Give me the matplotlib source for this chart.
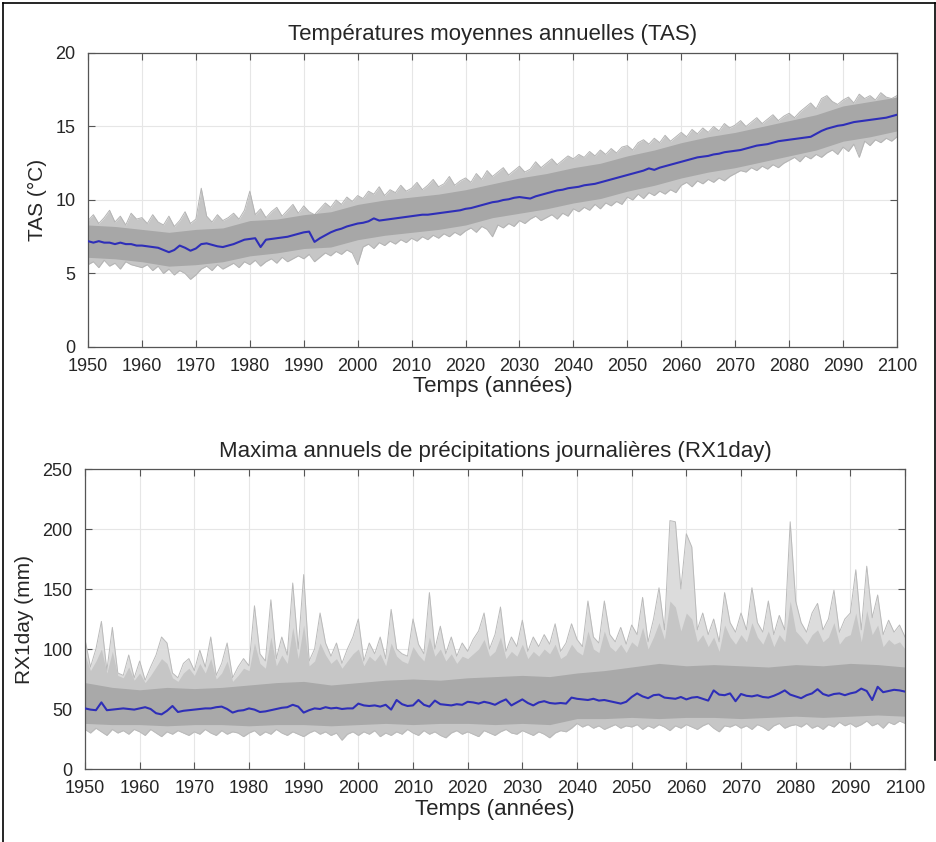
import matplotlib.pyplot as plt
import numpy as np
from matplotlib.lines import Line2D

years = np.arange(1950, 2101)
core_years = np.arange(1950, 2101, 5)

# --- TAS (°C): ensemble mean, extreme members, dense core of the ensemble
tas_mean = [
    7.2, 7.1, 7.2, 7.1, 7.1, 7.0, 7.1, 7.0, 7.0, 6.9,
    6.9, 6.85, 6.8, 6.75, 6.6, 6.45, 6.6, 6.9, 6.75, 6.55,
    6.7, 7.0, 7.05, 6.95, 6.85, 6.8, 6.9, 7.0, 7.15, 7.3,
    7.35, 7.4, 6.8, 7.3, 7.35, 7.4, 7.45, 7.5, 7.6, 7.7,
    7.8, 7.85, 7.15, 7.4, 7.6, 7.8, 7.95, 8.05, 8.2, 8.3,
    8.4, 8.45, 8.55, 8.75, 8.6, 8.65, 8.7, 8.75, 8.8, 8.85,
    8.9, 8.95, 9.0, 9.0, 9.05, 9.1, 9.15, 9.2, 9.25, 9.3,
    9.4, 9.45, 9.55, 9.65, 9.75, 9.85, 9.9, 10.0, 10.05, 10.15,
    10.2, 10.15, 10.1, 10.25, 10.35, 10.45, 10.55, 10.65, 10.7, 10.8,
    10.85, 10.9, 11.0, 11.05, 11.1, 11.2, 11.3, 11.4, 11.5, 11.6,
    11.7, 11.8, 11.9, 12.0, 12.15, 12.05, 12.2, 12.3, 12.4, 12.5,
    12.6, 12.7, 12.8, 12.9, 12.95, 13.0, 13.1, 13.15, 13.25, 13.3,
    13.35, 13.4, 13.5, 13.6, 13.7, 13.75, 13.8, 13.9, 14.0, 14.05,
    14.1, 14.15, 14.2, 14.25, 14.3, 14.5, 14.7, 14.85, 14.95, 15.05,
    15.1, 15.2, 15.3, 15.35, 15.4, 15.45, 15.5, 15.55, 15.6, 15.7, 15.8,
]
tas_max = [
    8.6, 9.0, 8.4, 8.8, 9.3, 8.5, 8.9, 8.3, 9.1, 8.7,
    8.8, 8.4, 9.0, 8.5, 8.3, 8.9, 8.2, 8.6, 9.2, 8.4,
    8.7, 10.8, 8.9, 8.5, 9.0, 8.6, 8.8, 9.1, 8.7, 9.3,
    10.6, 9.0, 9.4, 8.8, 9.2, 9.5, 8.9, 9.3, 9.7, 9.1,
    9.6, 9.2, 9.0, 9.4, 9.8, 9.5, 10.0, 9.7, 10.2, 9.9,
    10.3, 10.1, 10.6, 10.4, 10.9, 10.3, 10.7, 10.5, 11.0, 10.6,
    10.8, 11.2, 10.7, 11.0, 11.4, 10.9, 11.1, 11.6, 11.0, 11.3,
    11.5, 11.2, 11.8, 11.4, 12.0, 11.6, 11.9, 12.2, 11.7, 12.0,
    12.3, 11.9, 12.1, 12.6, 12.2, 12.5, 12.8, 12.4, 12.7, 13.0,
    12.8, 13.1, 12.9, 13.3, 13.0, 13.4, 13.1, 13.5, 13.2, 13.6,
    13.7, 13.4, 13.9, 14.1, 13.8, 14.2, 13.9, 14.4, 14.0, 14.3,
    14.6, 14.3, 14.8, 14.5, 14.9, 14.6, 15.0, 14.7, 15.2, 14.9,
    15.1, 15.4, 15.0, 15.3, 15.6, 15.2, 15.5, 15.8, 15.4, 15.7,
    15.9, 15.6, 16.0, 16.3, 16.6, 16.2, 16.9, 17.1, 16.7, 16.5,
    16.8, 17.0, 16.6, 17.2, 16.9, 17.1, 16.8, 17.3, 17.0, 16.9, 17.1,
]
tas_min = [
    5.6, 5.8, 5.4, 5.9, 5.5, 5.7, 5.3, 5.8, 5.6, 5.5,
    5.4, 5.6, 5.2, 5.5, 5.0, 5.3, 4.9, 5.2, 5.0, 4.6,
    4.9, 5.3, 5.5, 5.2, 5.6, 5.3, 5.5, 5.7, 5.4, 5.8,
    5.6, 5.9, 5.5, 5.8, 6.0, 5.7, 6.1, 5.8, 6.0, 6.2,
    6.0, 6.3, 5.8, 6.1, 6.4, 6.2, 6.5, 6.3, 6.6, 6.4,
    5.6, 6.8, 7.0, 6.7, 7.1, 6.9, 7.2, 7.0, 7.3, 7.1,
    7.4, 7.2, 7.5, 7.3, 7.6, 7.4, 7.7, 7.5, 7.8, 7.6,
    7.9, 8.1, 7.8, 8.2, 8.0, 7.5, 8.3, 8.1, 8.4, 8.2,
    8.6, 8.4, 8.7, 8.9, 8.6, 8.8, 9.0, 8.7, 9.1, 8.9,
    9.4, 9.2, 9.5, 9.3, 9.7, 9.4, 9.8, 9.6, 9.9, 9.7,
    10.2, 10.0, 10.4, 10.1, 10.5, 10.3, 10.6, 10.4, 10.7, 10.5,
    11.0, 11.2, 10.9, 11.3, 11.1, 11.4, 11.2, 11.5, 11.3, 11.6,
    11.8, 12.0, 11.9, 12.2, 12.0, 12.3, 12.1, 12.4, 12.2, 12.5,
    12.7, 12.9, 12.6, 13.0, 12.8, 13.1, 12.9, 13.2, 13.4, 13.1,
    13.6, 13.3, 13.8, 12.9, 14.0, 13.7, 14.1, 13.9, 14.2, 14.0, 14.3,
]
tas_core_hi = [8.3, 8.2, 8.0, 7.8, 8.0, 8.1, 8.6, 8.7, 9.0, 9.2, 9.7,
               10.0, 10.2, 10.4, 10.7, 11.1, 11.5, 11.8, 12.2, 12.5, 13.0,
               13.4, 13.9, 14.3, 14.6, 15.0, 15.4, 15.8, 16.4, 16.7, 17.0]
tas_core_lo = [6.1, 6.0, 5.8, 5.5, 5.6, 5.8, 6.2, 6.4, 6.7, 6.8, 7.3,
               7.6, 7.8, 8.0, 8.3, 8.8, 9.1, 9.4, 9.8, 10.1, 10.6,
               11.0, 11.5, 11.9, 12.2, 12.6, 13.0, 13.4, 14.0, 14.3, 14.7]

# --- RX1day (mm): mean, extreme and typical upper members, min, dense core
rx_mean = [
    50.5, 49.5, 49.0, 55.5, 49.0, 49.5, 50.0, 50.5, 50.0, 49.5,
    50.5, 51.5, 50.0, 46.5, 45.5, 48.5, 52.5, 47.5, 48.5, 49.0,
    49.5, 50.0, 50.5, 50.5, 51.5, 52.0, 50.0, 47.0, 48.5, 49.0,
    50.5, 49.5, 47.5, 48.0, 49.0, 50.0, 51.0, 51.5, 53.5, 52.0,
    47.0, 49.0, 50.5, 50.0, 51.5, 50.5, 51.0, 50.0, 50.5, 50.5,
    54.5, 53.0, 52.5, 53.0, 52.0, 53.5, 49.5, 57.5, 54.0, 52.5,
    53.0, 57.5, 53.5, 52.0, 57.0, 54.0, 53.5, 53.0, 54.0, 53.5,
    56.0, 55.5, 54.5, 56.0, 55.0, 53.5, 56.0, 58.0, 53.0, 55.5,
    58.0, 55.0, 53.0, 55.5, 56.5, 55.0, 54.5, 55.0, 54.5, 59.5,
    58.5, 58.0, 57.5, 58.5, 57.0, 57.5, 56.5, 55.5, 54.5, 56.0,
    60.0, 63.0, 60.5, 59.0, 61.5, 62.0, 59.5, 59.0, 58.5, 60.0,
    58.0, 59.5, 60.0, 58.5, 57.0, 65.5, 62.0, 61.5, 63.0, 56.5,
    62.5, 61.0, 60.5, 61.5, 60.0, 59.5, 61.0, 63.0, 65.5, 62.0,
    60.5, 59.0, 61.5, 63.0, 66.5, 62.5, 61.0, 62.5, 63.0, 61.5,
    63.0, 64.0, 67.0, 65.0, 57.5, 68.5, 64.0, 65.0, 66.0, 65.5, 64.5,
]
rx_max = [
    108, 85, 100, 123, 82, 118, 80, 78, 95, 76,
    90, 74, 85, 95, 110, 105, 80, 76, 88, 92,
    82, 99, 85, 110, 78, 88, 105, 76, 85, 92,
    86, 136, 96, 90, 141, 92, 110, 95, 155, 100,
    162, 90, 100, 130, 105, 94, 105, 88, 100, 110,
    125, 90, 105, 96, 110, 92, 133, 100, 96, 94,
    125, 104, 96, 147, 100, 119, 96, 110, 94, 105,
    98, 108, 115, 130, 100, 112, 135, 98, 110, 102,
    124, 98, 110, 102, 112, 104, 121, 98, 105, 121,
    108, 102, 140, 110, 105, 140, 112, 106, 118, 104,
    120, 112, 143, 106, 125, 151, 116, 207, 206, 150,
    196, 185, 116, 130, 112, 125, 106, 147, 122, 114,
    130, 116, 151, 122, 114, 140, 112, 128, 116, 206,
    140, 122, 114, 130, 138, 116, 125, 149, 114, 125,
    130, 166, 116, 169, 126, 145, 112, 124, 114, 120, 110,
]
rx_upper = [
    95, 82, 90, 100, 80, 98, 78, 76, 85, 74,
    80, 72, 78, 85, 92, 88, 76, 73, 80, 84,
    78, 88, 80, 92, 75, 80, 90, 73, 78, 84,
    82, 105, 88, 84, 110, 86, 95, 88, 118, 92,
    120, 86, 90, 105, 95, 88, 92, 84, 90, 96,
    100, 86, 94, 90, 96, 86, 105, 94, 90, 88,
    102, 95, 90, 110, 94, 100, 90, 96, 88, 94,
    92, 96, 100, 108, 94, 98, 110, 92, 98, 94,
    104, 92, 98, 94, 100, 96, 104, 92, 95, 104,
    98, 95, 115, 100, 97, 115, 102, 98, 104, 97,
    106, 102, 118, 100, 110, 122, 108, 140, 135, 115,
    130, 125, 106, 112, 102, 110, 98, 120, 110, 104,
    112, 106, 122, 110, 104, 115, 102, 112, 106, 140,
    115, 110, 104, 112, 116, 106, 110, 122, 104, 110,
    112, 130, 106, 132, 112, 120, 102, 108, 104, 106, 100,
]
rx_min = [
    33, 30, 34, 31, 28, 33, 30, 32, 29, 33,
    31, 28, 33, 30, 27, 31, 29, 32, 30, 28,
    31, 29, 33, 30, 28, 32, 29, 31, 30, 27,
    30, 32, 28, 31, 29, 33, 30, 28, 31, 29,
    27, 30, 32, 29, 31, 28, 30, 24, 29, 31,
    28, 31, 29, 32, 27, 30, 28, 31, 29, 33,
    30, 28, 32, 29, 31, 28, 26, 30, 32, 29,
    31, 29, 27, 32, 30, 28, 31, 33, 30, 29,
    32, 30, 28, 31, 29, 26, 30, 32, 31, 34,
    38, 35, 37, 34, 36, 33, 35, 37, 34, 36,
    35, 37, 33, 36, 34, 37, 35, 32, 36, 34,
    37, 35, 33, 36, 38, 34, 31, 36, 35, 37,
    34, 36, 33, 37, 35, 32, 36, 38, 34, 36,
    37, 35, 38, 34, 36, 33, 37, 35, 39, 36,
    38, 35, 37, 40, 36, 38, 34, 39, 37, 40, 38,
]
rx_core_hi = [72, 68, 66, 68, 67, 68, 70, 72, 73, 70, 72, 74, 75, 74, 76, 77,
              78, 77, 80, 82, 85, 88, 86, 87, 86, 85, 87, 86, 88, 87, 85]
rx_core_lo = [38, 37, 37, 36, 37, 37, 36, 37, 37, 36, 37, 38, 37, 38, 38, 37,
              38, 37, 42, 42, 43, 42, 43, 43, 42, 43, 44, 43, 44, 45, 44]

xticks = np.arange(1950, 2101, 10)

plt.rcParams['font.family'] = ['Liberation Sans', 'DejaVu Sans']
text_col = '#262626'
W, H = 937, 842

fig = plt.figure(figsize=(W / 100, H / 100), dpi=100)


def px_axes(left, right, top, bottom):
    return fig.add_axes([left / W, 1 - bottom / H, (right - left) / W, (bottom - top) / H])


def style_axes(ax, ylim, yticks, title, ylabel):
    ax.set_xlim(1950, 2100)
    ax.set_ylim(*ylim)
    ax.set_xticks(xticks)
    ax.set_yticks(yticks)
    ax.grid(True, color='#e6e6e6', lw=0.8, zorder=0)
    ax.set_axisbelow(True)
    ax.tick_params(direction='in', length=5, width=0.8, top=True, right=True,
                   colors='#555555', labelcolor=text_col, labelsize=13)
    ax.tick_params(axis='x', pad=8)
    ax.tick_params(axis='y', pad=9)
    for s in ax.spines.values():
        s.set_color('#555555')
        s.set_linewidth(0.9)
    ax.set_title(title, fontsize=16, color=text_col, pad=9)
    ax.set_xlabel('Temps (années)', fontsize=16, color=text_col, labelpad=1)
    ax.set_ylabel(ylabel, fontsize=15, color=text_col, labelpad=6)


# top panel: annual mean temperature
ax1 = px_axes(88, 897, 53, 347)
ax1.fill_between(years, tas_min, tas_max, color='#c6c6c6', lw=0, zorder=1)
ax1.plot(years, tas_max, color='#b4b4b4', lw=0.7, zorder=1.5)
ax1.plot(years, tas_min, color='#b4b4b4', lw=0.7, zorder=1.5)
ax1.fill_between(core_years, tas_core_lo, tas_core_hi, color='#a7a7a7', lw=0, zorder=2)
ax1.plot(years, tas_mean, color='#2e2eb8', lw=1.5, zorder=3)
style_axes(ax1, (0, 20), [0, 5, 10, 15, 20],
           'Températures moyennes annuelles (TAS)', 'TAS (°C)')

# bottom panel: annual maximum daily precipitation
ax2 = px_axes(85, 905, 469, 769)
ax2.fill_between(years, rx_min, rx_max, color='#dcdcdc', lw=0, zorder=1)
ax2.plot(years, rx_max, color='#bababa', lw=0.7, zorder=1.2)
ax2.fill_between(years, rx_min, rx_upper, color='#c6c6c6', lw=0, zorder=1.4)
ax2.plot(years, rx_min, color='#bababa', lw=0.7, zorder=1.5)
ax2.fill_between(core_years, rx_core_lo, rx_core_hi, color='#a9a9a9', lw=0, zorder=2)
ax2.plot(years, rx_mean, color='#2e2eb8', lw=1.5, zorder=3)
style_axes(ax2, (0, 250), [0, 50, 100, 150, 200, 250],
           'Maxima annuels de précipitations journalières (RX1day)', 'RX1day (mm)')

# thin black frame around the figure
for xs, ys in [((3, 3), (3, H)), ((3, 935.5), (3, 3)), ((935.5, 935.5), (3, 760))]:
    fig.add_artist(Line2D([x / W for x in xs], [1 - y / H for y in ys],
                          color='black', lw=1.2, transform=fig.transFigure))

fig.savefig('out.png', dpi=100)
